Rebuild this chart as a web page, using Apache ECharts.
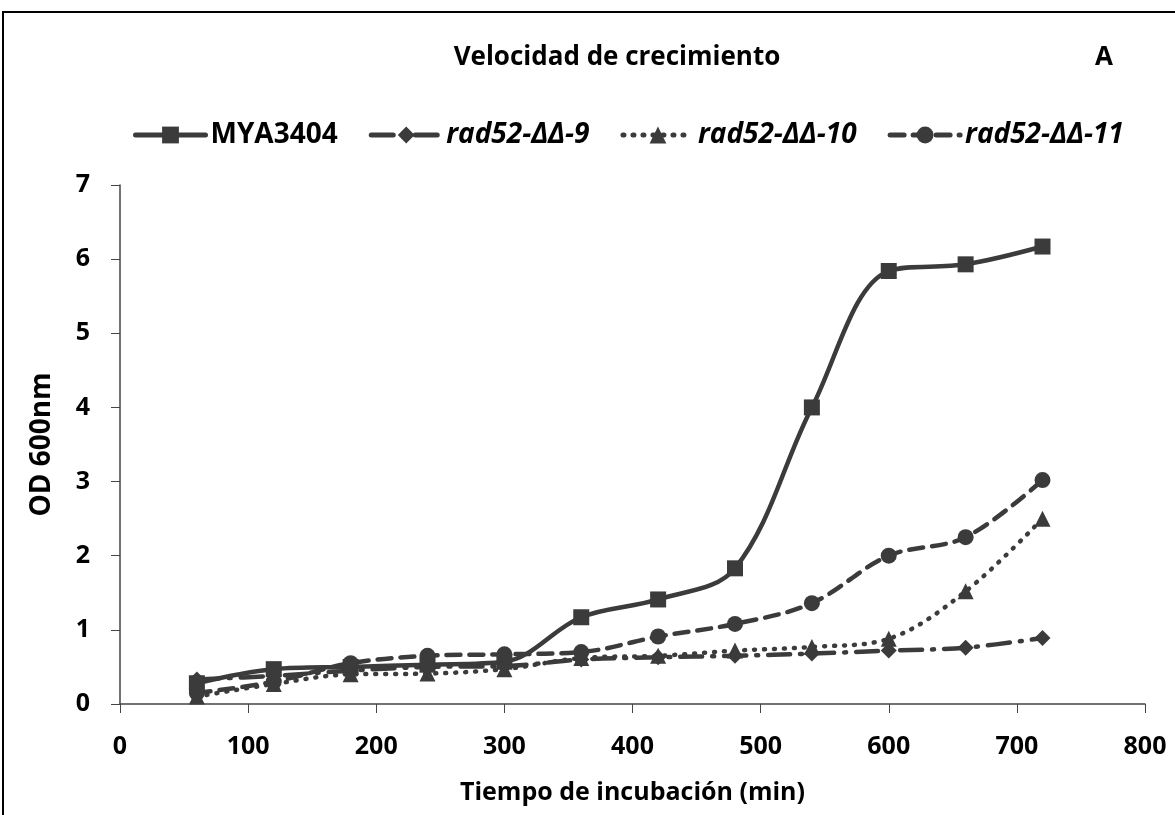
<!DOCTYPE html>
<html>
<head>
<meta charset="utf-8">
<script src="https://cdn.jsdelivr.net/npm/echarts@6/dist/echarts.min.js"></script>
<style>
  html, body { margin: 0; padding: 0; background: #fff; }
  #chart { width: 1175px; height: 815px; }
</style>
</head>
<body>
<div id="chart"></div>
<script>
// tiempo de incubacion (min)
const tiempos = [60, 120, 180, 240, 300, 360, 420, 480, 540, 600, 660, 720];
const mya3404 = [0.28, 0.47, 0.50, 0.53, 0.57, 1.17, 1.41, 1.83, 4.00, 5.84, 5.93, 6.17];
const rad52_9 = [0.33, 0.38, 0.45, 0.50, 0.51, 0.60, 0.63, 0.65, 0.68, 0.72, 0.76, 0.89];
const rad52_10 = [0.10, 0.27, 0.40, 0.41, 0.47, 0.62, 0.65, 0.72, 0.77, 0.88, 1.52, 2.50];
const rad52_11 = [0.15, 0.30, 0.55, 0.65, 0.67, 0.70, 0.91, 1.08, 1.36, 2.00, 2.25, 3.02];
const nombres = ['MYA3404', 'rad52-ΔΔ-9', 'rad52-ΔΔ-10', 'rad52-ΔΔ-11'];

const gris = '#3b3b3b';
const fuente = '"Open Sans", "Liberation Sans", sans-serif';

function pares(ys) {
  return tiempos.map((t, i) => [t, ys[i]]);
}

function serie(name, ys, symbol, size, dash) {
  return {
    name: name,
    type: 'line',
    data: pares(ys),
    smooth: 0.35,
    symbol: symbol,
    symbolSize: size,
    itemStyle: { color: gris },
    lineStyle: { color: gris, width: 4.5, type: dash, cap: 'round' }
  };
}

let chart = echarts.init(document.getElementById('chart'));
chart.setOption({
  animation: false,
  textStyle: { fontFamily: fuente },
  title: [{
    text: 'Velocidad de crecimiento',
    left: 612, top: 40, textAlign: 'center',
    textStyle: { fontSize: 26, fontWeight: 'bold', color: '#000', fontFamily: fuente }
  }, {
    text: 'A',
    left: 1090, top: 40,
    textStyle: { fontSize: 26, fontWeight: 'bold', color: '#000', fontFamily: fuente }
  }],
  legend: {
    top: 116, left: 128,
    itemWidth: 70, itemHeight: 21, itemGap: 31,
    lineStyle: { width: 5 },
    textStyle: { fontSize: 28, fontWeight: 'bold', color: '#000', fontFamily: fuente },
    data: [
      { name: nombres[0] },
      { name: nombres[1], textStyle: { fontStyle: 'italic' } },
      { name: nombres[2], textStyle: { fontStyle: 'italic' } },
      { name: nombres[3], textStyle: { fontStyle: 'italic' } }
    ]
  },
  grid: { left: 120, right: 30, top: 185, bottom: 111 },
  xAxis: {
    type: 'value', min: 0, max: 800, interval: 100,
    name: 'Tiempo de incubación (min)',
    nameLocation: 'middle', nameGap: 76,
    nameTextStyle: { fontSize: 25, fontWeight: 'bold', color: '#000' },
    axisLine: { lineStyle: { color: '#444', width: 1.5 } },
    axisTick: { length: 9, lineStyle: { color: '#444' } },
    axisLabel: { fontSize: 25, fontWeight: 'bold', color: '#000', margin: 30 },
    splitLine: { show: false }
  },
  yAxis: {
    type: 'value', min: 0, max: 7, interval: 1,
    name: 'OD 600nm',
    nameLocation: 'middle', nameGap: 64, nameRotate: 90,
    nameTextStyle: { fontSize: 28, fontWeight: 'bold', color: '#000' },
    axisLine: { show: true, lineStyle: { color: '#444', width: 1.5 } },
    axisTick: { show: true, length: 9, lineStyle: { color: '#444' } },
    axisLabel: { fontSize: 25, fontWeight: 'bold', color: '#000', margin: 30 },
    splitLine: { show: false }
  },
  graphic: [{
    type: 'polyline',
    shape: { points: [[3, 815], [3, 12], [1175, 12]] },
    style: { stroke: '#000', lineWidth: 2, fill: null }
  }],
  series: [
    serie(nombres[0], mya3404, 'rect', 16, 'solid'),
    serie(nombres[1], rad52_9, 'diamond', 16, [22, 10, 2, 10]),
    serie(nombres[2], rad52_10, 'triangle', 16, [1, 9]),
    serie(nombres[3], rad52_11, 'circle', 16, [14, 9])
  ]
});
window.onresize = () => {
  chart.resize();
};
</script>
</body>
</html>
